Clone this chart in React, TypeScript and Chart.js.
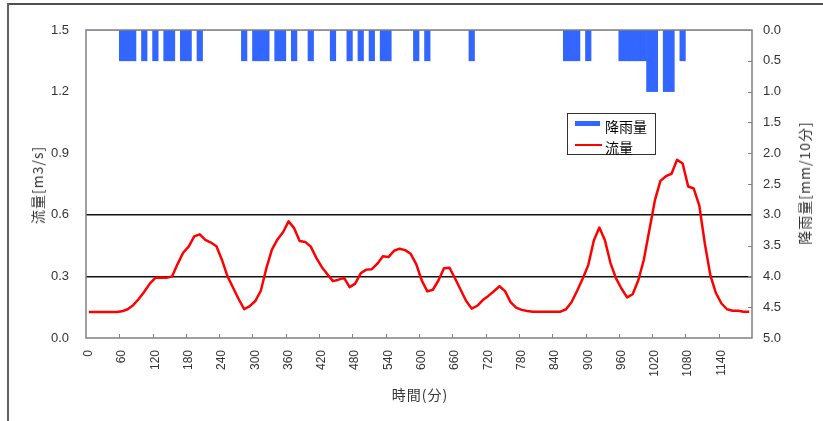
import { useEffect, useRef } from 'react';
import { Chart, registerables } from 'chart.js';

Chart.register(...registerables);

// Elapsed time in minutes, one category per 10-minute step
const timeLabels = [
  '0', '10', '20', '30', '40', '50', '60', '70', '80', '90',
  '100', '110', '120', '130', '140', '150', '160', '170', '180', '190',
  '200', '210', '220', '230', '240', '250', '260', '270', '280', '290',
  '300', '310', '320', '330', '340', '350', '360', '370', '380', '390',
  '400', '410', '420', '430', '440', '450', '460', '470', '480', '490',
  '500', '510', '520', '530', '540', '550', '560', '570', '580', '590',
  '600', '610', '620', '630', '640', '650', '660', '670', '680', '690',
  '700', '710', '720', '730', '740', '750', '760', '770', '780', '790',
  '800', '810', '820', '830', '840', '850', '860', '870', '880', '890',
  '900', '910', '920', '930', '940', '950', '960', '970', '980', '990',
  '1000', '1010', '1020', '1030', '1040', '1050', '1060', '1070', '1080', '1090',
  '1100', '1110', '1120', '1130', '1140', '1150', '1160', '1170', '1180', '1190',
];

// Discharge [m3/s]
const flow = [
  0.127, 0.127, 0.127, 0.127, 0.127, 0.127, 0.13, 0.14, 0.16, 0.19,
  0.225, 0.265, 0.293, 0.295, 0.293, 0.3, 0.36, 0.415, 0.445, 0.495,
  0.505, 0.478, 0.465, 0.447, 0.38, 0.3, 0.245, 0.19, 0.14, 0.155,
  0.18, 0.23, 0.34, 0.43, 0.48, 0.515, 0.568, 0.535, 0.472, 0.468,
  0.445, 0.39, 0.345, 0.31, 0.277, 0.284, 0.293, 0.248, 0.265, 0.315,
  0.333, 0.335, 0.362, 0.398, 0.394, 0.425, 0.435, 0.428, 0.41, 0.36,
  0.28, 0.227, 0.235, 0.28, 0.34, 0.342, 0.29, 0.235, 0.18, 0.143,
  0.157, 0.185, 0.205, 0.228, 0.252, 0.228, 0.175, 0.148, 0.137, 0.132,
  0.128, 0.128, 0.128, 0.128, 0.128, 0.128, 0.14, 0.175, 0.23, 0.29,
  0.355, 0.475, 0.538, 0.476, 0.365, 0.29, 0.24, 0.198, 0.213, 0.28,
  0.38, 0.525, 0.67, 0.765, 0.788, 0.8, 0.868, 0.85, 0.738, 0.728,
  0.646, 0.46, 0.305, 0.219, 0.168, 0.14, 0.133, 0.133, 0.128, 0.128,
];

// Rainfall per 10 minutes [mm]
const rain = [
  0, 0, 0, 0, 0, 0, 0.5, 0.5, 0.5, 0,
  0.5, 0, 0.5, 0, 0.5, 0.5, 0, 0.5, 0.5, 0,
  0.5, 0, 0, 0, 0, 0, 0, 0, 0.5, 0,
  0.5, 0.5, 0.5, 0, 0.5, 0.5, 0, 0.5, 0, 0,
  0.5, 0, 0, 0, 0.5, 0, 0, 0.5, 0, 0.5,
  0, 0.5, 0, 0.5, 0.5, 0, 0, 0, 0, 0.5,
  0, 0.5, 0, 0, 0, 0, 0, 0, 0, 0.5,
  0, 0, 0, 0, 0, 0, 0, 0, 0, 0,
  0, 0, 0, 0, 0, 0, 0.5, 0.5, 0.5, 0,
  0.5, 0, 0, 0, 0, 0, 0.5, 0.5, 0.5, 0.5,
  0.5, 1, 1, 0, 1, 1, 0, 0.5, 0, 0,
  0, 0, 0, 0, 0, 0, 0, 0, 0, 0,
];

// Flow levels marked with a solid line
const flowMarks = [0.3, 0.6];

const NUM_FONT = '"Liberation Sans", Arial, sans-serif';
const JP_FONT = '"Noto Sans CJK JP", "Noto Sans", sans-serif';
const BLUE = '#3366ff';
const RED = '#ff0000';

// Plot frame plus short inward tick marks on the bottom and right axes
const plotFrame = {
  id: 'plotFrame',
  afterDatasetsDraw(chart: any) {
    const { ctx, chartArea: a, scales } = chart;
    const x = scales.x;
    const y2 = scales.y2;
    const half = (x.getPixelForValue(1) - x.getPixelForValue(0)) / 2;
    ctx.save();
    ctx.strokeStyle = '#808080';
    ctx.lineWidth = 1;
    ctx.beginPath();
    for (let i = 6; i < timeLabels.length; i += 6) {
      const px = Math.round(x.getPixelForValue(i) - half) + 0.5;
      ctx.moveTo(px, a.bottom);
      ctx.lineTo(px, a.bottom - 4);
    }
    const t = y2.ticks;
    for (let i = 1; i < t.length - 1; i++) {
      const py = Math.round(y2.getPixelForValue(t[i].value)) + 0.5;
      ctx.moveTo(a.right, py);
      ctx.lineTo(a.right - 4, py);
    }
    ctx.stroke();
    ctx.lineWidth = 1.5;
    ctx.strokeRect(a.left, a.top, a.right - a.left, a.bottom - a.top);
    ctx.restore();
  },
};

export default function App() {
  const canvasRef = useRef<HTMLCanvasElement>(null);

  useEffect(() => {
    const chart = new Chart(canvasRef.current as HTMLCanvasElement, {
      type: 'bar',
      data: {
        labels: timeLabels,
        datasets: [
          {
            type: 'line',
            label: '流量',
            data: flow,
            yAxisID: 'y',
            borderColor: RED,
            backgroundColor: RED,
            borderWidth: 2.5,
            borderJoinStyle: 'round',
            pointRadius: 0,
            tension: 0,
            fill: false,
            order: 0,
          } as any,
          {
            type: 'bar',
            label: '降雨量',
            data: rain,
            yAxisID: 'y2',
            backgroundColor: BLUE,
            borderWidth: 0,
            barPercentage: 1,
            categoryPercentage: 1,
            order: 1,
          } as any,
        ],
      },
      options: {
        responsive: false,
        animation: false,
        devicePixelRatio: 1,
        events: [],
        layout: { padding: { top: 30, left: 0, right: 0, bottom: 0 } },
        plugins: { legend: { display: false }, tooltip: { enabled: false } },
        scales: {
          x: {
            type: 'category',
            offset: true,
            grid: { display: false, drawTicks: false },
            border: { display: false },
            ticks: {
              autoSkip: false,
              minRotation: 90,
              maxRotation: 90,
              padding: 12,
              color: '#333',
              font: { family: NUM_FONT, size: 12 },
              callback: (_v: any, i: number) => (i % 6 === 0 ? timeLabels[i] : ''),
            },
            afterFit: (s: any) => {
              s.height = 83;
            },
          },
          y: {
            type: 'linear',
            position: 'left',
            min: 0,
            max: 1.5,
            grid: {
              drawTicks: false,
              lineWidth: 1.5,
              color: (c: any) => {
                const v = c.tick ? c.tick.value : NaN;
                return flowMarks.some((m) => Math.abs(m - v) < 1e-6) ? '#111' : 'rgba(0,0,0,0)';
              },
            },
            border: { display: false },
            ticks: {
              stepSize: 0.3,
              padding: 17,
              color: '#333',
              font: { family: NUM_FONT, size: 13 },
              callback: (v: any) => Number(v).toFixed(1),
            },
            afterFit: (s: any) => {
              s.width = 86;
            },
          },
          y2: {
            type: 'linear',
            position: 'right',
            min: 0,
            max: 5,
            reverse: true,
            grid: { display: false, drawTicks: false },
            border: { display: false },
            ticks: {
              stepSize: 0.5,
              padding: 11,
              color: '#333',
              font: { family: NUM_FONT, size: 13 },
              callback: (v: any) => Number(v).toFixed(1),
            },
            afterFit: (s: any) => {
              s.width = 71;
            },
          },
        },
      },
      plugins: [plotFrame],
    });
    return () => chart.destroy();
  }, []);

  const titleBase: any = {
    position: 'absolute',
    whiteSpace: 'nowrap',
    fontFamily: JP_FONT,
    fontSize: 14,
    letterSpacing: 1,
    color: '#333',
    lineHeight: 1,
  };

  return (
    <div
      style={{
        position: 'absolute',
        left: 0,
        top: 0,
        width: 823,
        height: 421,
        background: '#fff',
        overflow: 'hidden',
      }}
    >
      <canvas
        ref={canvasRef}
        width={823}
        height={421}
        style={{ position: 'absolute', left: 0, top: 0, width: 823, height: 421 }}
      />
      {/* outer frame */}
      <div style={{ position: 'absolute', left: 7, top: 3, width: 816, height: 2, background: '#505050' }} />
      <div style={{ position: 'absolute', left: 7, top: 3, width: 2, height: 418, background: '#606060' }} />

      {/* axis titles */}
      <div
        style={{
          ...titleBase,
          left: 37,
          top: 185,
          transform: 'translate(-50%, -50%) rotate(-90deg)',
        }}
      >
        流量[m3/s]
      </div>
      <div
        style={{
          ...titleBase,
          left: 804,
          top: 183,
          transform: 'translate(-50%, -50%) rotate(-90deg)',
        }}
      >
        降雨量[mm/10分]
      </div>
      <div
        style={{
          ...titleBase,
          left: 420,
          top: 394,
          transform: 'translate(-50%, -50%)',
        }}
      >
        時間(分)
      </div>

      {/* legend */}
      <div
        style={{
          position: 'absolute',
          left: 567,
          top: 113,
          width: 89,
          height: 42,
          boxSizing: 'border-box',
          border: '1px solid #333',
          background: '#fff',
          fontFamily: JP_FONT,
          fontSize: 14,
          color: '#000',
          lineHeight: 1,
        }}
      >
        <div style={{ position: 'absolute', left: 7, top: 7, width: 25, height: 5, background: BLUE }} />
        <div style={{ position: 'absolute', left: 37, top: 5, whiteSpace: 'nowrap' }}>降雨量</div>
        <div style={{ position: 'absolute', left: 7, top: 30, width: 27, height: 2, background: RED }} />
        <div style={{ position: 'absolute', left: 37, top: 26, whiteSpace: 'nowrap' }}>流量</div>
      </div>
    </div>
  );
}
